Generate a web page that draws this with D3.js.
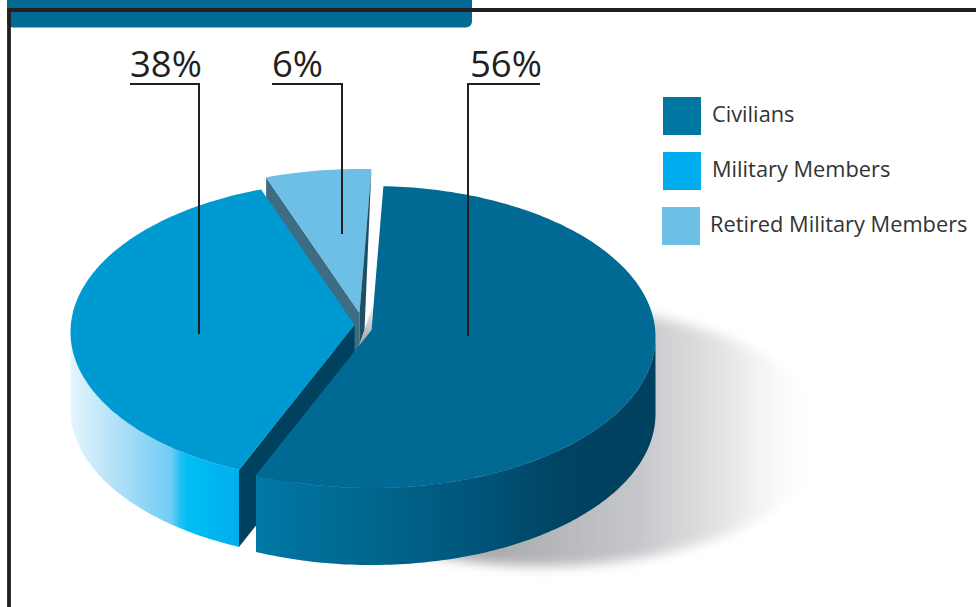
<!DOCTYPE html>
<html>
<head>
<meta charset="utf-8">
<style>
  html, body { margin: 0; padding: 0; background: #fff; overflow: hidden; }
  text { font-family: "Open Sans", sans-serif; fill: #231f20; }
</style>
<script src="https://d3js.org/d3.v7.min.js"></script>
</head>
<body>
<script>
'use strict'

var categories = ["Civilians", "Military Members", "Retired Military Members"]
var shares = [56, 38, 6]
var shareLabels = ["56%", "38%", "6%"]

var width = 976
var height = 607
var rad = Math.PI / 180

// pie geometry
var rx = 284, ry = 151, depth = 77, apexLift = 7
var centers = [[371.5, 337], [354.5, 332], [359.5, 320]]
var topColors = ["#006a94", "#009ad3", "#6dbfe6"]
var swatchColors = ["#0076a3", "#00aeef", "#6dbfe6"]
var legendBoxes = [[663, 97], [663, 152], [662, 207]]
var legendText = [[712, 122], [712, 177], [710, 232]]
// label x, leader start x, elbow x, leader bottom
var leaders = [
  { text: 470, x1: 540, elbow: 468, bottom: 336 },
  { text: 130, x1: 130, elbow: 199, bottom: 334 },
  { text: 272, x1: 272, elbow: 342, bottom: 234 }
]

var svg = d3.select("body").append("svg")
  .attr("width", width)
  .attr("height", height)
  .style("display", "block")

var defs = svg.append("defs")

function addGradient(id, x1, x2, stops) {
  var g = defs.append("linearGradient")
    .attr("id", id)
    .attr("gradientUnits", "userSpaceOnUse")
    .attr("x1", x1).attr("x2", x2).attr("y1", 0).attr("y2", 0)
  stops.forEach(function (s) {
    g.append("stop").attr("offset", s[0]).attr("stop-color", s[1]).attr("stop-opacity", s[2] === undefined ? 1 : s[2])
  })
}

addGradient("civSide", 255, 656, [[0, "#0078a6"], [0.3, "#00668d"], [0.55, "#00557a"], [0.77, "#004362"], [1, "#00415f"]])
addGradient("milSide", 71, 238, [[0, "#e4f5fd"], [0.33, "#a6dcf7"], [0.6, "#6fcdf6"], [0.66, "#1cc0f5"], [0.7, "#00bff3"], [1, "#00aeef"]])
addGradient("shadow", 450, 825, [[0, "#a2a3a6", 1], [0.5, "#c6c7ca", 1], [0.75, "#e6e7e8", 1], [1, "#ffffff", 0]])

defs.append("filter").attr("id", "soft")
  .attr("x", "-10%").attr("y", "-10%").attr("width", "120%").attr("height", "120%")
  .append("feGaussianBlur").attr("stdDeviation", 6)

var sliverFade = defs.append("linearGradient").attr("id", "sliverFade")
  .attr("x1", 0).attr("x2", 0).attr("y1", 0).attr("y2", 1)
sliverFade.append("stop").attr("offset", 0).attr("stop-color", "#ffffff")
sliverFade.append("stop").attr("offset", 1).attr("stop-color", "#9b9c9f")

var arcs = d3.pie().sort(null)
  .startAngle(2.4 * rad)
  .endAngle(362.4 * rad)(shares)

var line = d3.line()

function rimPoint(i, a, drop) {
  return [centers[i][0] + rx * Math.sin(a), centers[i][1] - ry * Math.cos(a) + (drop || 0)]
}

function apex(i, drop) {
  return [centers[i][0], centers[i][1] - apexLift + (drop || 0)]
}

function rimPoints(i, a0, a1, drop) {
  var n = Math.max(2, Math.ceil(Math.abs(a1 - a0) / rad))
  return d3.range(n + 1).map(function (k) {
    return rimPoint(i, a0 + (a1 - a0) * k / n, drop)
  })
}

function topFace(i) {
  return line([apex(i)].concat(rimPoints(i, arcs[i].startAngle, arcs[i].endAngle))) + "Z"
}

function sideWall(i, a0, a1) {
  return line(rimPoints(i, a0, a1).concat(rimPoints(i, a1, a0, depth))) + "Z"
}

function cutFace(i, a) {
  return line([apex(i), rimPoint(i, a), rimPoint(i, a, depth), apex(i, depth)]) + "Z"
}

// header tab and frame
svg.append("rect")
  .attr("x", 7).attr("y", -10)
  .attr("width", 465).attr("height", 37.5)
  .attr("rx", 6)
  .attr("fill", "#006a94")

svg.append("path")
  .attr("d", line([[9, height], [9, 10], [width, 10]]))
  .attr("fill", "none")
  .attr("stroke", "#231f20")
  .attr("stroke-width", 3.8)

// drop shadow
svg.append("ellipse")
  .attr("cx", 545).attr("cy", 436)
  .attr("rx", 278).attr("ry", 130)
  .attr("fill", "url(#shadow)")
  .attr("filter", "url(#soft)")

// retired slice sits at the back
svg.append("path").attr("d", cutFace(2, arcs[2].startAngle)).attr("fill", "#3d6d85")
svg.append("path").attr("d", topFace(2)).attr("fill", topColors[2])

// thin dark sliver down the right edge of the retired slice
var retiredTip = apex(2)
var retiredEnd = rimPoint(2, arcs[2].endAngle)
svg.append("path")
  .attr("d", line([retiredEnd, retiredTip, [retiredTip[0], retiredTip[1] + 32], [retiredTip[0] + 5, retiredTip[1] + 17]]) + "Z")
  .attr("fill", "#1f4f66")

// grey reflection in the gap beside the civilians slice
var civTip = apex(0)
var civStart = rimPoint(0, arcs[0].startAngle)
var civCut = d3.interpolateArray(civTip, civStart)
svg.append("path")
  .attr("d", line([civCut(0.2), civTip, [civTip[0] - 13, civTip[1] + 16], [retiredTip[0] + 5, retiredTip[1] + 17]]) + "Z")
  .attr("fill", "url(#sliverFade)")

// military slice
svg.append("path").attr("d", sideWall(1, arcs[1].startAngle, 270 * rad)).attr("fill", "url(#milSide)")
svg.append("path").attr("d", cutFace(1, arcs[1].startAngle)).attr("fill", "#00415f")
svg.append("path").attr("d", topFace(1)).attr("fill", topColors[1])

// civilians slice
svg.append("path").attr("d", sideWall(0, 90 * rad, arcs[0].endAngle)).attr("fill", "url(#civSide)")
svg.append("path").attr("d", topFace(0)).attr("fill", topColors[0])

// leaders and percent labels
leaders.forEach(function (d, i) {
  svg.append("path")
    .attr("d", line([[d.x1, 84], [d.elbow, 84], [d.elbow, d.bottom]]))
    .attr("fill", "none")
    .attr("stroke", "#231f20")
    .attr("stroke-width", 2)
  svg.append("text")
    .attr("x", d.text).attr("y", 77)
    .attr("font-size", 36.5)
    .text(shareLabels[i])
})

// legend
var legend = svg.append("g")
categories.forEach(function (name, i) {
  legend.append("rect")
    .attr("x", legendBoxes[i][0]).attr("y", legendBoxes[i][1])
    .attr("width", 38).attr("height", 38)
    .attr("fill", swatchColors[i])
  legend.append("text")
    .attr("x", legendText[i][0]).attr("y", legendText[i][1])
    .attr("font-size", 21.8)
    .style("fill", "#333")
    .text(name)
})
</script>
</body>
</html>
